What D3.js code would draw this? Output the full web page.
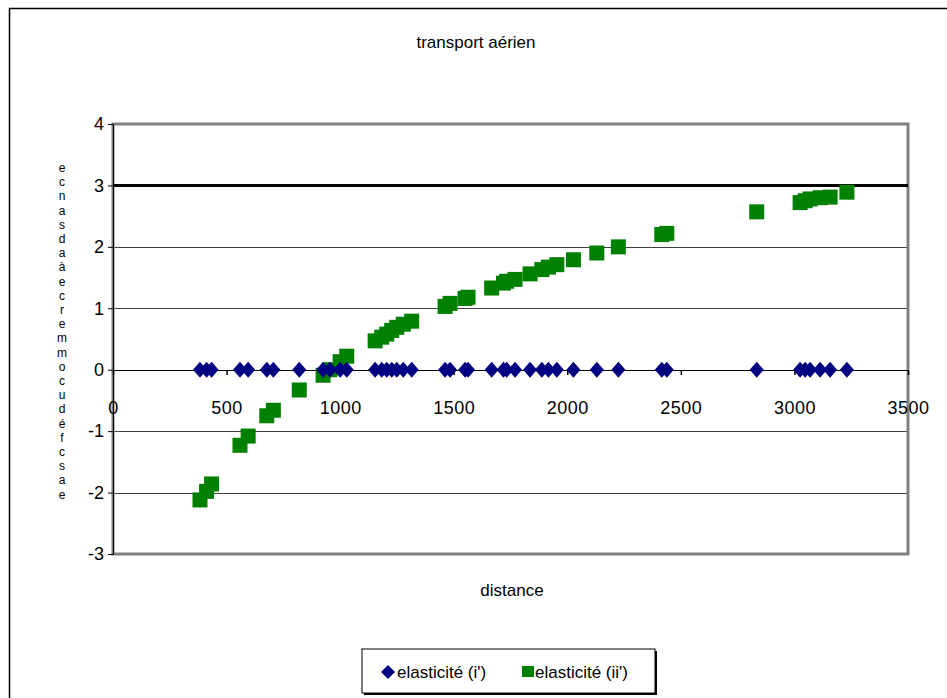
<!DOCTYPE html>
<html lang="fr">
<head>
<meta charset="utf-8">
<title>transport aérien</title>
<script src="https://cdn.jsdelivr.net/npm/d3@7"></script>
<style>
  body { margin: 0; background: #fff; }
  text { font-family: "Liberation Sans", Arial, sans-serif; fill: #000; }
</style>
</head>
<body>
<script>
// distances (x) shared by both series
var distances = [383, 412, 434, 559, 595, 677, 706, 820, 925, 955, 1000, 1029,
  1154, 1183, 1205, 1227, 1249, 1278, 1315, 1462, 1484, 1550, 1563, 1667, 1719,
  1733, 1770, 1836, 1888, 1917, 1954, 2027, 2130, 2225, 2416, 2438, 2834, 3025,
  3047, 3069, 3113, 3157, 3231];
// elasticité (i') : always 0
var elasI = distances.map(function() { return 0; });
// elasticité (ii')
var elasII = [-2.12, -1.98, -1.86, -1.23, -1.08, -0.75, -0.66, -0.33, -0.09, 0.0, 0.13, 0.22,
  0.47, 0.53, 0.58, 0.64, 0.69, 0.74, 0.79, 1.03, 1.08, 1.16, 1.18, 1.33, 1.41,
  1.44, 1.47, 1.56, 1.63, 1.67, 1.71, 1.79, 1.90, 2.00, 2.20, 2.22, 2.57, 2.72,
  2.75, 2.78, 2.80, 2.81, 2.89];
var refLine = 3;
var xTicks = [0, 500, 1000, 1500, 2000, 2500, 3000, 3500];
var yTicks = [-3, -2, -1, 0, 1, 2, 3, 4];
var yLabel = "ecnasdaàecremmocudéfcsae";
var seriesNames = ["elasticité (i')", "elasticité (ii')"];

var w = 947, h = 698;
var padL = 113, padR = 908, padT = 124, padB = 554;
var font = "'Liberation Sans', Arial, sans-serif";

var svg = d3.select("body").append("svg")
  .attr("width", w).attr("height", h);

// outer chart border
svg.append("rect")
  .attr("x", 9.5).attr("y", 8.5)
  .attr("width", 960).attr("height", 720)
  .attr("fill", "#fff").attr("stroke", "#000").attr("stroke-width", 1.5);

var xScale = d3.scaleLinear().domain([0, 3500]).range([padL, padR]);
var yScale = d3.scaleLinear().domain([-3, 4]).range([padB, padT]);

// gridlines
svg.append("g").selectAll("line")
  .data(yTicks.filter(function(d) { return d !== 0 && d !== 4 && d !== -3; }))
  .enter().append("line")
  .attr("x1", padL).attr("x2", padR)
  .attr("y1", function(d) { return Math.round(yScale(d)) + 0.5; })
  .attr("y2", function(d) { return Math.round(yScale(d)) + 0.5; })
  .attr("stroke", "#404040").attr("stroke-width", 1);

// plot area border
svg.append("rect")
  .attr("x", padL).attr("y", padT)
  .attr("width", padR - padL).attr("height", padB - padT)
  .attr("fill", "none").attr("stroke", "#808080").attr("stroke-width", 3);

// thick reference line at 3
svg.append("line")
  .attr("x1", xScale(0)).attr("x2", xScale(3500))
  .attr("y1", yScale(refLine)).attr("y2", yScale(refLine))
  .attr("stroke", "#000").attr("stroke-width", 3);

// y axis
var yAxis = d3.axisLeft(yScale).tickValues(yTicks).tickSize(5).tickPadding(4)
  .tickFormat(function(d) { return String(d); });
var gy = svg.append("g")
  .attr("transform", "translate(" + padL + ",0)")
  .call(yAxis);
gy.select(".domain").attr("stroke", "#000").attr("stroke-width", 1);
gy.selectAll("text").style("font-size", "18px").style("font-family", font);

// x axis crossing at 0
var xAxis = d3.axisBottom(xScale).tickValues(xTicks).tickSize(5)
  .tickFormat(function(d) { return String(d); });
var gx = svg.append("g")
  .attr("transform", "translate(0," + Math.round(yScale(0)) + ")")
  .call(xAxis);
gx.select(".domain").attr("stroke", "#000").attr("stroke-width", 1).attr("d",
  "M" + padL + ",0.5H" + padR);
gx.selectAll(".tick line").attr("stroke", "#000").attr("stroke-width", 1.5);
gx.selectAll("text").style("font-size", "18px").style("font-family", font)
  .style("letter-spacing", "0.5px")
  .attr("dy", "0.71em").attr("y", 31);

// series ii' : green squares
var sq = 15;
svg.append("g").selectAll("rect")
  .data(distances)
  .enter().append("rect")
  .attr("x", function(d) { return xScale(d) - sq / 2; })
  .attr("y", function(d, i) { return yScale(elasII[i]) - sq / 2; })
  .attr("width", sq).attr("height", sq)
  .attr("fill", "#008000");

// series i' : navy diamonds
var dw = 7, dh = 8;
svg.append("g").selectAll("path")
  .data(distances)
  .enter().append("path")
  .attr("d", function(d, i) {
    var cx = xScale(d), cy = yScale(elasI[i]);
    return "M" + cx + "," + (cy - dh) + "L" + (cx + dw) + "," + cy +
      "L" + cx + "," + (cy + dh) + "L" + (cx - dw) + "," + cy + "Z";
  })
  .attr("fill", "#000080");

// title
svg.append("text")
  .attr("x", 476).attr("y", 48)
  .attr("text-anchor", "middle")
  .style("font-size", "17px")
  .text("transport aérien");

// x label
svg.append("text")
  .attr("x", 512).attr("y", 596)
  .attr("text-anchor", "middle")
  .style("font-size", "17px")
  .text("distance");

// stacked y label (one letter per line, like the original)
var yl = svg.append("text")
  .attr("text-anchor", "middle")
  .style("font-size", "12px");
yLabel.split("").forEach(function(c, i) {
  yl.append("tspan").attr("x", 62).attr("y", 172 + i * 14.2).text(c);
});

// legend
var lg = svg.append("g");
lg.append("rect")
  .attr("x", 364).attr("y", 651)
  .attr("width", 293).attr("height", 44)
  .attr("fill", "#000");
lg.append("rect")
  .attr("x", 362).attr("y", 649)
  .attr("width", 293).attr("height", 44)
  .attr("fill", "#fff").attr("stroke", "#000").attr("stroke-width", 1);
lg.append("path")
  .attr("d", "M388,665L395,672L388,679L381,672Z")
  .attr("fill", "#000080");
lg.append("text").attr("x", 397).attr("y", 678)
  .style("font-size", "17px").text(seriesNames[0]);
lg.append("rect")
  .attr("x", 522).attr("y", 666).attr("width", 12).attr("height", 11)
  .attr("fill", "#008000");
lg.append("text").attr("x", 535).attr("y", 678)
  .style("font-size", "17px").text(seriesNames[1]);
</script>
</body>
</html>
